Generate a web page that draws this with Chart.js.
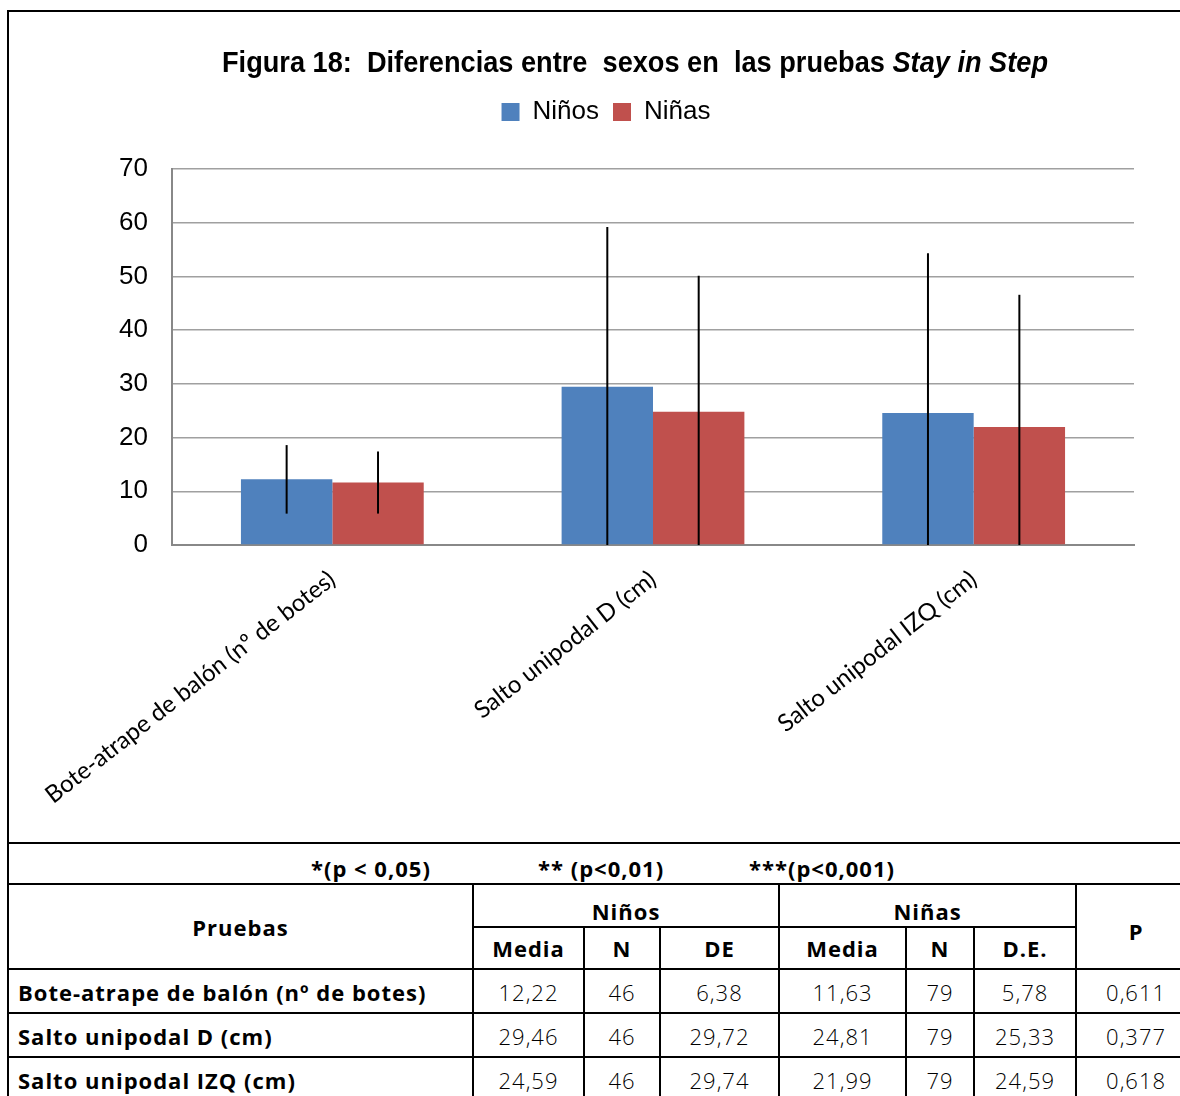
<!DOCTYPE html>
<html>
<head>
<meta charset="utf-8">
<script src="https://cdn.jsdelivr.net/npm/chart.js@4"></script>
<style>
html, body { margin: 0; padding: 0; background: #fff; }
body { width: 1180px; height: 1096px; overflow: hidden; position: relative; }
#frame { position: absolute; left: 7px; top: 10px; width: 1200px; height: 830px;
  border-left: 2px solid #000; border-top: 2px solid #000; border-bottom: 2px solid #000; }
#chartBox { position: absolute; left: 9px; top: 12px; width: 1171px; height: 830px; }
#sig { position: absolute; left: 7px; top: 844px; width: 1200px; height: 39px; border-left: 2px solid #000;
  font-family: "Open Sans", sans-serif; font-weight: bold; font-size: 22px; letter-spacing: 1px; color: #000; }
#sig span { position: absolute; top: 9px; }
table { position: absolute; left: 7px; top: 883px; width: 1188px; border-collapse: collapse; table-layout: fixed;
  font-family: "Open Sans", sans-serif; font-size: 22px; letter-spacing: 1px; color: #000; }
td, th { border: 2px solid #000; padding: 0; text-align: center; }
th { font-weight: bold; }
tr.h1 th.grp { padding-top: 10px; }
th.p { padding-top: 8px; }
td.name { text-align: left; padding-left: 9px; font-weight: bold; padding-top: 2px; }
td.num { color: #000; font-weight: 300; padding-top: 2px; }
</style>
</head>
<body>
<div id="frame"></div>
<div id="chartBox"><canvas id="chart"></canvas></div>
<div id="sig">
  <span style="left:302px">*(p &lt; 0,05)</span>
  <span style="left:529px">** (p&lt;0,01)</span>
  <span style="left:740px">***(p&lt;0,001)</span>
</div>
<table id="stats">
  <colgroup>
    <col style="width:465px"><col style="width:111px"><col style="width:76px"><col style="width:119px">
    <col style="width:127px"><col style="width:68px"><col style="width:102px"><col style="width:120px">
  </colgroup>
  <thead>
    <tr class="h1" style="height:43px"><th rowspan="2">Pruebas</th><th class="grp" colspan="3">Niños</th><th class="grp" colspan="3">Niñas</th><th class="p" rowspan="2">P</th></tr>
    <tr style="height:42px"><th>Media</th><th>N</th><th>DE</th><th>Media</th><th>N</th><th>D.E.</th></tr>
  </thead>
  <tbody id="rows"></tbody>
</table>

<script>
// categorías y valores (media ± DE)
const pruebas = ['Bote-atrape de balón (nº de botes)', 'Salto unipodal D (cm)', 'Salto unipodal IZQ (cm)'];
const pruebasEje = ['Bote-atrape de balón (nº de botes)', 'Salto unipodal D (cm)', 'Salto unipodal IZQ (cm)'];
const mediaNinos = [12.22, 29.46, 24.59];
const deNinos = [6.38, 29.72, 29.74];
const nNinos = [46, 46, 46];
const mediaNinas = [11.63, 24.81, 21.99];
const deNinas = [5.78, 25.33, 24.59];
const nNinas = [79, 79, 79];
const valoresP = [0.611, 0.377, 0.618];
const ticksY = [0, 10, 20, 30, 40, 50, 60, 70];

const coma = (v, d) => v.toFixed(d).replace('.', ',');

// tabla de resultados
let html = '';
for (let i = 0; i < pruebas.length; i++) {
  html += '<tr style="height:44px"><td class="name">' + pruebas[i] + '</td>' +
    '<td class="num">' + coma(mediaNinos[i], 2) + '</td><td class="num">' + nNinos[i] + '</td>' +
    '<td class="num">' + coma(deNinos[i], 2) + '</td>' +
    '<td class="num">' + coma(mediaNinas[i], 2) + '</td><td class="num">' + nNinas[i] + '</td>' +
    '<td class="num">' + coma(deNinas[i], 2) + '</td>' +
    '<td class="num">' + coma(valoresP[i], 3) + '</td></tr>';
}
document.getElementById('rows').innerHTML = html;

// barras de error: media ± DE, recortadas en 0
const errorBars = {
  id: 'errorBars',
  afterDatasetsDraw(chart) {
    const ctx = chart.ctx;
    const y = chart.scales.y;
    ctx.save();
    ctx.strokeStyle = '#000';
    ctx.lineWidth = 2;
    chart.data.datasets.forEach((ds, di) => {
      chart.getDatasetMeta(di).data.forEach((bar, i) => {
        const m = ds.data[i], sd = ds.sd[i];
        ctx.beginPath();
        ctx.moveTo(bar.x, y.getPixelForValue(m + sd));
        ctx.lineTo(bar.x, y.getPixelForValue(Math.max(0, m - sd)));
        ctx.stroke();
      });
    });
    ctx.restore();
  }
};

// título con parte en cursiva
const tituloMixto = {
  id: 'tituloMixto',
  afterDraw(chart) {
    const ctx = chart.ctx;
    const parts = [
      { t: 'Figura 18:  Diferencias entre  sexos en  las pruebas ', f: 'bold 29px "Liberation Sans", Arial, sans-serif' },
      { t: 'Stay in Step', f: 'italic bold 29px "Liberation Sans", Arial, sans-serif' }
    ];
    ctx.save();
    let w = 0;
    parts.forEach(p => { ctx.font = p.f; p.w = ctx.measureText(p.t).width; w += p.w; });
    const target = 826;
    const sx = target / w;
    ctx.translate(626 - target / 2, 52);
    ctx.scale(sx, 1);
    ctx.fillStyle = '#000';
    ctx.textBaseline = 'middle';
    let x = 0;
    parts.forEach(p => { ctx.font = p.f; ctx.fillText(p.t, x, 0); x += p.w; });
    ctx.restore();
  }
};

new Chart(document.getElementById('chart'), {
  type: 'bar',
  data: {
    labels: pruebasEje,
    datasets: [
      { label: 'Niños', data: mediaNinos, sd: deNinos, backgroundColor: '#4F81BD' },
      { label: 'Niñas', data: mediaNinas, sd: deNinas, backgroundColor: '#C0504D' }
    ]
  },
  options: {
    responsive: true,
    maintainAspectRatio: false,
    animation: false,
    layout: { padding: { top: 73, left: 69, right: 46, bottom: 0 } },
    datasets: { bar: { barPercentage: 1, categoryPercentage: 0.57 } },
    plugins: {
      title: { display: false },
      // espacio en blanco entre la leyenda y el área del gráfico
      subtitle: { display: true, text: ' ', weight: 500, padding: 11, font: { size: 10 } },
      tooltip: { enabled: false },
      legend: {
        position: 'top',
        labels: {
          font: { family: '"Liberation Sans", Arial, sans-serif', size: 26 },
          color: '#000',
          boxWidth: 18, boxHeight: 18, padding: 14
        }
      }
    },
    scales: {
      x: {
        grid: { display: false },
        border: { color: '#888', width: 2 },
        ticks: {
          autoSkip: false, minRotation: 38, maxRotation: 38, color: '#000', padding: 12,
          font: { family: 'Lato, "Open Sans", sans-serif', size: 24 }
        },
        afterFit(scale) { scale.height = 297; }
      },
      y: {
        min: 0, max: 70,
        afterBuildTicks(scale) { scale.ticks = ticksY.map(v => ({ value: v })); },
        grid: { color: '#a0a0a0', lineWidth: 1.5, drawTicks: false },
        border: { color: '#888', width: 2 },
        ticks: {
          padding: 24, color: '#000',
          font: { family: '"Liberation Sans", Arial, sans-serif', size: 26 }
        },
        afterFit(scale) { scale.width = 94; }
      }
    }
  },
  plugins: [errorBars, tituloMixto]
});
</script>
</body>
</html>
